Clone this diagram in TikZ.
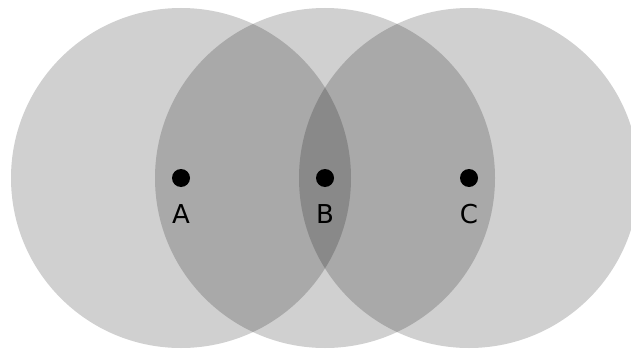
\documentclass[tikz,border=0pt]{standalone}
\usepackage{fontspec}
\setmainfont{DejaVu Sans}
\begin{document}
\begin{tikzpicture}[x=1pt,y=-1pt,
  zone/.style={fill=black,fill opacity=0.185,draw=none},
  dot/.style={circle,fill=black,inner sep=0pt,minimum size=18pt},
  lbl/.style={font=\fontsize{26}{30}\selectfont,inner sep=0pt,text=black}]
\useasboundingbox (0,0) rectangle (631,350);
\clip (0,0) rectangle (631,350);
\fill[white] (0,0) rectangle (631,350);
\fill[zone] (181,178) circle (170);
\fill[zone] (325,178) circle (170);
\fill[zone] (469,178) circle (170);
\node[dot] (a) at (181,178) {};
\node[dot] (b) at (325,178) {};
\node[dot] (c) at (469,178) {};
\node[lbl] (la) at (181,214.5) {A};
\node[lbl] (lb) at (325,214.5) {B};
\node[lbl] (lc) at (469,214.5) {C};
\end{tikzpicture}
\end{document}
